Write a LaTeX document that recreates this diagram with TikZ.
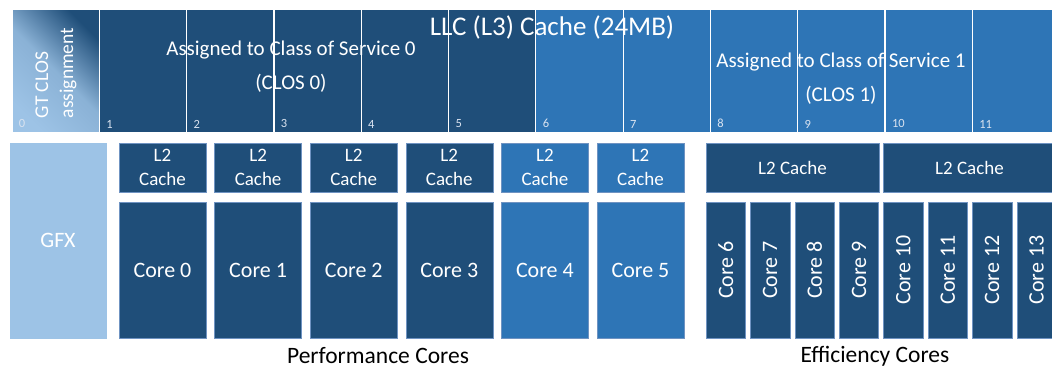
\documentclass[tikz,border=0pt]{standalone}
\usepackage{fontspec}
\setmainfont{Carlito}

\definecolor{closdark}{HTML}{1F4E79}
\definecolor{closmid}{HTML}{2E75B6}
\definecolor{gfxlight}{HTML}{9DC3E6}
\definecolor{boxedge}{HTML}{6F93C2}
\definecolor{waynumcol}{HTML}{DAE3F0}

\tikzset{
  way/.style={anchor=north west, minimum width=87.3pt, minimum height=124pt, draw=white, line width=1.2pt},
  waynum/.style={anchor=south west, text=waynumcol, font=\fontsize{12.5}{14}\selectfont},
  unit/.style={anchor=north west, draw=boxedge, line width=0.6pt, text=white},
  l2box/.style={unit, minimum width=87pt, minimum height=49pt, align=center, font=\fontsize{19}{24}\selectfont},
  pcore/.style={unit, minimum width=87pt, minimum height=136pt, font=\fontsize{22}{24}\selectfont},
  ecore/.style={unit, minimum width=39.5pt, minimum height=136pt},
  groupname/.style={text=black, font=\fontsize{23.5}{26}\selectfont}
}

\begin{document}
\begin{tikzpicture}[x=1pt, y=-1pt, every node/.style={inner sep=0pt, outer sep=0pt}]
    \useasboundingbox (0,0) rectangle (1052,369);

    % LLC ways
    \node[way, shading=axis, bottom color=gfxlight, top color=closdark, middle color=gfxlight!85!closdark, shading angle=-45] (way0) at (12,9) {};
    \node[waynum] (num0) at ([xshift=7pt, yshift=5pt]way0.south west) {0};
    \foreach \i in {1,...,11} {
        \ifnum\i<6 \def\wc{closdark}\else\def\wc{closmid}\fi
        \node[way, fill=\wc] (way\i) at ({12+87.3*\i},9) {};
        \node[waynum] (num\i) at ([xshift=7pt, yshift=5pt]way\i.south west) {\i};
    }
    \node[rotate=90, align=left, text=white, font=\fontsize{19.5}{25}\selectfont] (gtclos) at (56,73) {GT CLOS\\assignment};
    \node[text=white, font=\fontsize{27}{30}\selectfont] (llc) at (552,27) {LLC (L3) Cache (24MB)};
    \node[text=white, align=center, font=\fontsize{21}{34}\selectfont] (clos0) at (291,67) {Assigned to Class of Service 0\\(CLOS 0)};
    \node[text=white, align=center, font=\fontsize{21}{34}\selectfont] (clos1) at (841,79) {Assigned to Class of Service 1\\(CLOS 1)};

    % graphics
    \node[unit, fill=gfxlight, draw=gfxlight, minimum width=96pt, minimum height=195pt, font=\fontsize{22}{24}\selectfont] (gfx) at (10,143) {GFX};

    % performance cores
    \foreach \i in {0,...,5} {
        \ifnum\i<4 \def\pc{closdark}\else\def\pc{closmid}\fi
        \node[l2box, fill=\pc] (pl2\i) at ({119+95.6*\i},143) {L2\\Cache};
        \node[pcore, fill=\pc] (core\i) at ({119+95.6*\i},202) {Core \i};
    }

    % efficiency cores
    \node[l2box, fill=closdark, minimum width=173pt] (el2a) at (706,143) {L2 Cache};
    \node[l2box, fill=closdark, minimum width=173pt] (el2b) at (883,143) {L2 Cache};
    \foreach \i in {6,...,13} {
        \node[ecore, fill=closdark] (core\i) at ({706+44.4*(\i-6)},202) {};
        \node[rotate=90, text=white, font=\fontsize{22}{24}\selectfont] (corelbl\i) at (core\i.center) {Core \i};
    }

    \node[groupname] (pcores) at (378,356) {Performance Cores};
    \node[groupname] (ecores) at (875,356) {Efficiency Cores};
\end{tikzpicture}
\end{document}
